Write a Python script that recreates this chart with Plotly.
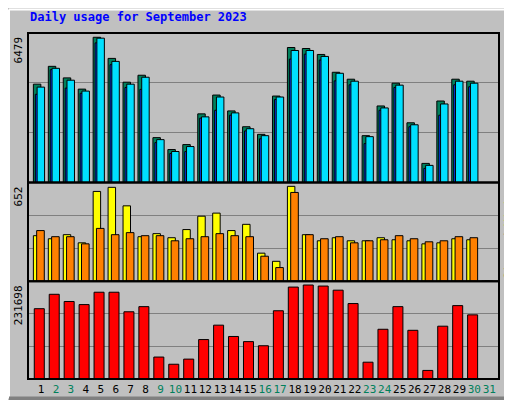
import plotly.graph_objects as go

days = list(range(1, 32))
hits = [4388,5183,4668,4167,6479,5537,4476,4786,2003,1472,1693,3063,3902,3195,2489,2150,3858,6023,5978,5713,4918,4609,2091,3416,4432,2665,854,3637,4609,4520,0]
files = [4256,5095,4565,4079,6440,5404,4388,4697,1914,1384,1605,2930,3814,3107,2400,2091,3814,5890,5890,5625,4874,4520,2047,3328,4344,2577,766,3505,4520,4432,0]
pages = [3937,5036,4213,3979,6229,5258,4242,4155,1780,1297,1380,2871,3223,3004,2303,1951,3702,5507,5727,5463,4536,4360,1737,3223,4242,2490,631,3004,4360,4272,0]
visits = [313,292,320,264,617,645,518,306,327,299,355,447,468,348,391,193,137,652,320,278,299,278,278,299,285,278,257,264,292,285,0]
sites = [348,306,306,257,363,320,334,313,313,278,292,306,327,313,306,172,94,610,320,292,306,264,278,285,313,292,271,278,306,299,0]
kbytes = [173350,208860,191100,183500,213940,213940,165740,178420,54120,36360,49050,97250,132760,104860,92170,82020,168270,226620,231698,229160,219010,186030,41430,122610,178420,120080,21140,130220,180960,158130,0]
weekend = [2,3,9,10,16,17,23,24,30,31]
title = "Daily usage for September 2023"
max_labels = ["6479", "652", "231698"]

R1, R2, R3 = 6670, 678, 241000
fig = go.Figure()
def bar(y, ax, off, w, color):
    fig.add_trace(go.Bar(x=days, y=y, yaxis=ax, xaxis="x", offset=off, width=w,
                         marker=dict(color=color, line=dict(color="black", width=1)),
                         showlegend=False, hoverinfo="skip"))
bar(hits, "y3", -0.51, 0.5, "#00805c")
bar(pages, "y3", -0.38, 0.4, "#0040ff")
bar(files, "y3", -0.26, 0.5, "#00e0ff")
bar(visits, "y2", -0.51, 0.5, "#ffff00")
bar(sites, "y2", -0.29, 0.51, "#ff8000")
bar(kbytes, "y", -0.45, 0.67, "#ff0000")

ticktext = [f"<span style='color:#00805c'>{d}</span>" if d in weekend else str(d) for d in days]
grid = dict(showgrid=True, gridcolor="#808080", gridwidth=1, showticklabels=False, zeroline=False, ticks="")
d1, d2 = 100/354, 201/354
fig.update_layout(
    width=512, height=400, margin=dict(l=20, r=21, t=25, b=21),
    paper_bgcolor="#c0c0c0", plot_bgcolor="#c0c0c0", barmode="overlay",
    font=dict(family="DejaVu Sans Mono", size=11, color="black"),
    xaxis=dict(range=[0.13, 31.65], tickvals=days, ticktext=ticktext, showgrid=False, tickangle=0,
               zeroline=False, ticks="", tickfont=dict(size=11), ticklabelstandoff=2),
    yaxis=dict(domain=[0, d1], range=[0, R3], tickvals=[R3/3, 2*R3/3], **grid),
    yaxis2=dict(domain=[d1, d2], range=[0, R2], tickvals=[R2/3, 2*R2/3], **grid),
    yaxis3=dict(domain=[d2, 1], range=[0, R1], tickvals=[R1/3, 2*R1/3], **grid),
)
shapes = []
for lo, hi in [(0, d1), (d1, d2), (d2, 1)]:
    shapes.append(dict(type="rect", xref="x domain", yref="paper", x0=0, x1=1, y0=lo, y1=hi,
                       line=dict(color="black", width=2)))
L, Rr, B, T = -19/471, 1+20/471, -20/354, 1+24/354
shapes += [
    dict(type="line", xref="paper", yref="paper", x0=L, x1=L, y0=B, y1=T, line=dict(color="white", width=2)),
    dict(type="line", xref="paper", yref="paper", x0=L, x1=Rr, y0=T, y1=T, line=dict(color="white", width=2)),
    dict(type="line", xref="paper", yref="paper", x0=Rr, x1=Rr, y0=B, y1=T, line=dict(color="#808080", width=4)),
    dict(type="line", xref="paper", yref="paper", x0=L, x1=Rr, y0=B, y1=B, line=dict(color="#808080", width=4)),
]
fig.update_layout(shapes=shapes)
ann = [dict(text=f"<b>{title}</b>", xref="paper", yref="paper", x=0, y=1+16/354, xanchor="left", yanchor="middle",
            showarrow=False, font=dict(color="#0000ff", size=12, family="DejaVu Sans Mono"))]
for lab, top in zip(max_labels, [1, d2, d1]):
    ann.append(dict(text=lab, xref="paper", yref="paper", x=-10/471, y=top - 2/354, xanchor="center", yanchor="top",
                    textangle=-90, showarrow=False, font=dict(size=11)))
right = [("<span style='color:#00e0ff'>Pages</span> / <span style='color:#00805c'>Files</span> / <span style='color:#00805c'>Hits</span>", 1),
         ("<span style='color:#ff8000'>Sites</span> / <span style='color:#ffff00'>Visits</span>", d2),
         ("<span style='color:#ff0000'>KBytes</span>", d1)]
for txt, top in right:
    ann.append(dict(text=txt, xref="paper", yref="paper", x=1+10/471, y=top - 2/354, xanchor="center", yanchor="top",
                    textangle=-90, showarrow=False, font=dict(size=11)))
fig.update_layout(annotations=ann)
fig.write_html("out.html")
